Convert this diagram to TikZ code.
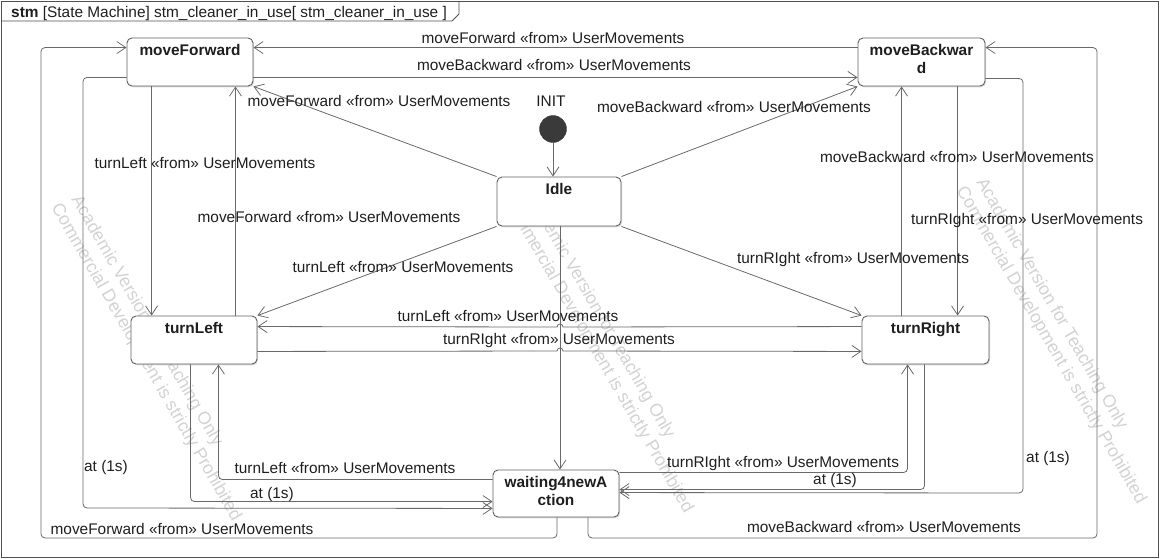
\documentclass[tikz,border=0pt]{standalone}
\usepackage{fontspec}
\setmainfont{Liberation Sans}
\usetikzlibrary{arrows.meta,shadows}

\definecolor{edgegray}{RGB}{105,105,105}
\definecolor{boxgray}{RGB}{95,95,95}
\definecolor{inkgray}{RGB}{30,30,30}
\definecolor{markgray}{RGB}{210,210,210}
\definecolor{dotgray}{RGB}{58,58,58}
\definecolor{framegray}{RGB}{80,80,80}

\begin{document}
\begin{tikzpicture}[x=1pt,y=-1pt,
  every node/.style={font=\fontsize{15.4}{18}\selectfont, text=inkgray, inner sep=0pt},
  stbox/.style={draw=boxgray, line width=0.9pt, fill=white, rounded corners=5pt,
    minimum width=#1, minimum height=48pt,
    drop shadow={shadow xshift=1.1pt, shadow yshift=-1.3pt, fill=black!28}},
  stname/.style={anchor=north, yshift=-6.4pt, align=center,
    font=\fontsize{15.4}{18}\selectfont\bfseries},
  lbl/.style={text height=11.2pt, text depth=0pt},
  wm/.style={font=\fontsize{17.8}{21}\selectfont, text=markgray, rotate=-60, anchor=west},
  conn/.style={draw=edgegray, line width=0.8pt, rounded corners=4pt,
    -{Straight Barb[length=9pt,width=12pt]}},
]
\useasboundingbox (0,0) rectangle (1161,559);

% licence watermark, behind everything
\node[wm] (wm1a) at (75,197) {Academic Version for Teaching Only};
\node[wm] (wm1b) at (55,205) {Commercial Development is strictly Prohibited};
\node[wm] (wm2a) at (527,189) {Academic Version for Teaching Only};
\node[wm] (wm2b) at (507,197) {Commercial Development is strictly Prohibited};
\node[wm] (wm3a) at (980,180) {Academic Version for Teaching Only};
\node[wm] (wm3b) at (960,188) {Commercial Development is strictly Prohibited};

% diagram frame with its name tab
\draw[framegray, line width=0.9pt] (1,1) rectangle (1158,557);
\draw[framegray, line width=0.9pt] (1,21) -- (452,21) -- (459,14) -- (459,1);
\node[anchor=west, lbl] (hdr) at (11,12)
  {\textbf{stm} [State Machine] stm\_cleaner\_in\_use[ stm\_cleaner\_in\_use ]};

% states
\node[stbox=126pt, label={[stname]north:moveForward}] (mf) at (190,62) {};
\node[stbox=127pt, label={[stname]north:{moveBackwar\\d}}] (mb) at (921.5,62) {};
\node[stbox=124pt, minimum height=49pt, label={[stname]north:Idle}] (idle) at (559,201.5) {};
\node[stbox=126pt, label={[stname]north:turnLeft}] (tl) at (194,340) {};
\node[stbox=127pt, label={[stname]north:turnRight}] (tr) at (925.5,340) {};
\node[stbox=126pt, minimum height=47pt, label={[stname]north:{waiting4newA\\ction}}] (wa) at (556,493.5) {};

% initial pseudo state
\node[circle, fill=dotgray, draw=dotgray, minimum size=27pt] (init) at (553,129) {};
\node[lbl] (initlbl) at (551,101) {INIT};
\draw[conn] (init) -- (init |- idle.north);

% helper points on the state borders
\coordinate (vx)  at ([xshift=1pt]idle.south);
\coordinate (p5)  at ([xshift=25pt]mf.south west);
\coordinate (p6)  at ([xshift=-18pt]mf.south east);
\coordinate (p9)  at ([xshift=44pt]mb.south west);
\coordinate (p10) at ([xshift=100pt]mb.south west);
\coordinate (p14) at ([xshift=-39pt]tl.south east);
\coordinate (p15) at ([xshift=60pt]tl.south west);
\coordinate (p19) at ([xshift=46pt]tr.south west);
\coordinate (p20) at ([xshift=63pt]tr.south west);

% transitions out of Idle
\draw[conn] (idle.north west) -- (mf.south east);
\draw[conn] (idle.north east) -- (mb.south west);
\draw[conn] (idle.south west) -- (tl.north east);
\draw[conn] (idle.south east) -- (tr.north west);
\draw[conn] (vx) -- (vx |- wa.north);

% moveForward <-> moveBackward
\draw[conn] ([yshift=-10pt]mb.north west) -- ([yshift=-10pt]mf.north east);
\draw[conn] ([yshift=9pt]mf.south east) -- ([yshift=9pt]mb.south west);

% moveForward <-> turnLeft
\draw[conn] (p5) -- (p5 |- tl.north);
\draw[conn] (p6 |- tl.north) -- (p6);

% moveBackward <-> turnRight
\draw[conn] (p9 |- tr.north) -- (p9);
\draw[conn] (p10) -- (p10 |- tr.north);

% turnLeft <-> turnRight, hopping over the Idle line
\draw[conn, sharp corners] ([yshift=-11pt]tr.north west) -- (563,327)
  arc[start angle=0, end angle=180, radius=3pt] -- ([yshift=-11pt]tl.north east);
\draw[conn, sharp corners] ([yshift=13pt]tl.south east) -- (557,351)
  arc[start angle=180, end angle=0, radius=3pt] -- ([yshift=13pt]tr.south west);

% waiting4newAction and its returns
\draw[conn] ([yshift=-10pt]wa.north west) -| (p14);
\draw[conn] (p15) |- ([yshift=-32pt]wa.north west);
\draw[conn] ([yshift=9pt]mf.south west) -| (83,508) -- ([yshift=9pt]wa.south west);
\draw[conn] ([xshift=1pt]wa.south) |- (41,538) |- ([yshift=-10pt]mf.north west);
\draw[conn] ([xshift=32pt]wa.south) |- (1097,538) |- ([yshift=-10pt]mb.north east);
\draw[conn] ([yshift=-3pt]wa.north east) -| (p19);
\draw[conn] (p20) |- ([yshift=-20pt]wa.north east);
\draw[conn] ([yshift=8pt]mb.south east) -| (1023,493) -- ([yshift=-23pt]wa.north east);

% transition labels
\node[lbl] (t1)  at (379,101) {moveForward «from» UserMovements};
\node[lbl] (t2)  at (734,107) {moveBackward «from» UserMovements};
\node[lbl] (t3)  at (553,38)  {moveForward «from» UserMovements};
\node[lbl] (t4)  at (554,65)  {moveBackward «from» UserMovements};
\node[lbl] (t5)  at (205,163) {turnLeft «from» UserMovements};
\node[lbl] (t6)  at (329,217) {moveForward «from» UserMovements};
\node[lbl] (t7)  at (403,267) {turnLeft «from» UserMovements};
\node[lbl] (t8)  at (853,258) {turnRIght «from» UserMovements};
\node[lbl] (t9)  at (957,157) {moveBackward «from» UserMovements};
\node[lbl] (t10) at (1027,219) {turnRIght «from» UserMovements};
\node[lbl] (t11) at (508,316) {turnLeft «from» UserMovements};
\node[lbl] (t12) at (559,339) {turnRIght «from» UserMovements};
\node[lbl] (t14) at (345,468) {turnLeft «from» UserMovements};
\node[lbl] (t15) at (272,493) {at (1s)};
\node[lbl] (t16) at (106,466) {at (1s)};
\node[lbl] (t17) at (182,529) {moveForward «from» UserMovements};
\node[lbl] (t18) at (884,527) {moveBackward «from» UserMovements};
\node[lbl] (t19) at (783,462) {turnRIght «from» UserMovements};
\node[lbl] (t20) at (835,479) {at (1s)};
\node[lbl] (t21) at (1048,457) {at (1s)};
\end{tikzpicture}
\end{document}
